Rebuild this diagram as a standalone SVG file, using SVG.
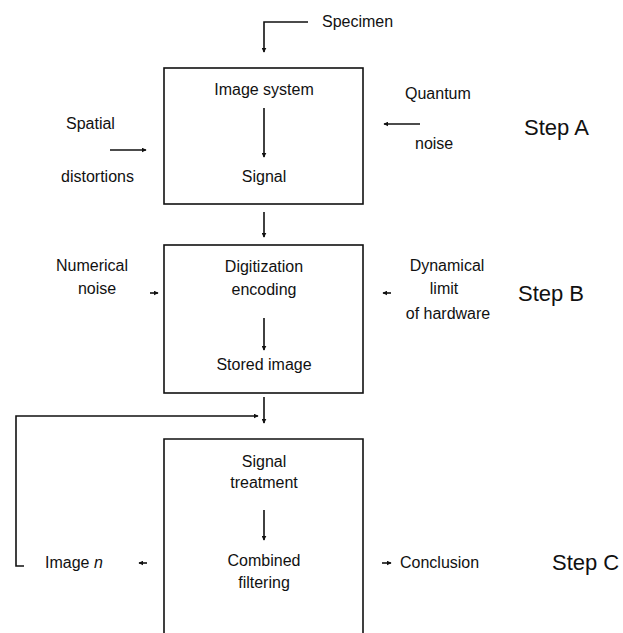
<svg xmlns="http://www.w3.org/2000/svg" width="623" height="633" viewBox="0 0 623 633">
<style>
text{font-family:"Liberation Sans",Arial,sans-serif;font-size:16px;fill:#111}
.m{text-anchor:middle}
.step{font-size:22px}
.box{fill:none;stroke:#111;stroke-width:1.6}
.ln{fill:none;stroke:#111;stroke-width:1.6}
</style>
<defs>
<marker id="ah" viewBox="0 0 8 8" refX="7" refY="4" markerWidth="5" markerHeight="5" orient="auto" markerUnits="userSpaceOnUse">
<path d="M0,0 L8,4 L0,8 Z" fill="#111"/>
</marker>
</defs>
<rect width="623" height="633" fill="#fff"/>

<g id="specimen">
<text x="322" y="27">Specimen</text>
</g>

<g id="stepA">
<rect class="box" x="164" y="68" width="199" height="136"/>
<text class="m" x="264" y="95">Image system</text>
<text class="m" x="264" y="182">Signal</text>
</g>
<g id="spatial"><text x="66" y="129">Spatial</text><text x="61" y="182">distortions</text></g>
<g id="quantum"><text x="405" y="99">Quantum</text><text x="415" y="149">noise</text></g>
<g id="labelA"><text class="step" x="524" y="135">Step A</text></g>

<g id="stepB">
<rect class="box" x="164" y="245" width="199" height="148"/>
<text class="m" x="264" y="272">Digitization</text>
<text class="m" x="264" y="295">encoding</text>
<text class="m" x="264" y="370">Stored image</text>
</g>
<g id="numerical"><text class="m" x="92" y="271">Numerical</text><text class="m" x="97" y="294">noise</text></g>
<g id="dynamical"><text class="m" x="447" y="271">Dynamical</text><text class="m" x="444" y="294">limit</text><text class="m" x="448" y="319">of hardware</text></g>
<g id="labelB"><text class="step" x="518" y="301">Step B</text></g>

<g id="stepC">
<path class="box" d="M164,633 V439 H363 V633"/>
<text class="m" x="264" y="467">Signal</text>
<text class="m" x="264" y="488">treatment</text>
<text class="m" x="264" y="566">Combined</text>
<text class="m" x="264" y="588">filtering</text>
</g>
<g id="imagen"><text x="45" y="568">Image <tspan font-style="italic">n</tspan></text></g>
<g id="conclusion"><text x="400" y="568">Conclusion</text></g>
<g id="labelC"><text class="step" x="552" y="570">Step C</text></g>

<g id="connectors">
<path class="ln" d="M308,22 H264 V52" marker-end="url(#ah)"/>
<path class="ln" d="M264,108 V157" marker-end="url(#ah)"/>
<path class="ln" d="M110,150 H146" marker-end="url(#ah)"/>
<path class="ln" d="M420,124 H384" marker-end="url(#ah)"/>
<path class="ln" d="M264,212 V237" marker-end="url(#ah)"/>
<path class="ln" d="M150,293 H158" marker-end="url(#ah)"/>
<path class="ln" d="M391,293 H383" marker-end="url(#ah)"/>
<path class="ln" d="M264,318 V350" marker-end="url(#ah)"/>
<path class="ln" d="M264,397 V423" marker-end="url(#ah)"/>
<path class="ln" d="M24,566 H16 V416 H258" marker-end="url(#ah)"/>
<path class="ln" d="M264,510 V540" marker-end="url(#ah)"/>
<path class="ln" d="M147,563 H139" marker-end="url(#ah)"/>
<path class="ln" d="M382,563 H391" marker-end="url(#ah)"/>
</g>
</svg>
